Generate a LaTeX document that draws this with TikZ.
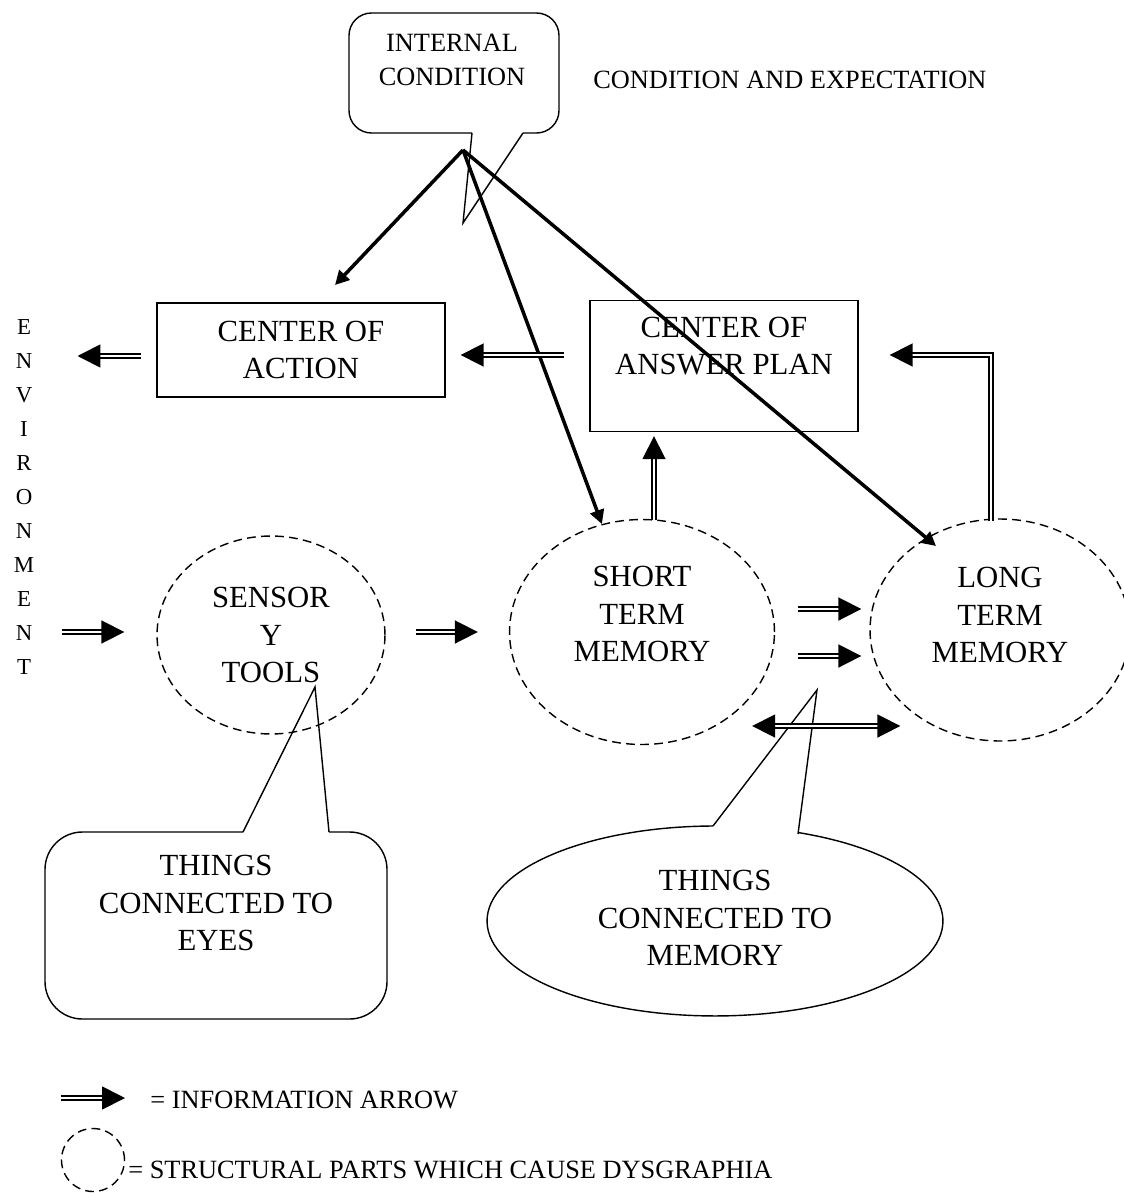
\documentclass[tikz,border=0pt]{standalone}
\usepackage{fontspec}
\setmainfont{Liberation Serif}
\usetikzlibrary{arrows.meta,shapes.geometric,calc}

\newcommand{\bigfont}{\fontsize{17.5}{21.5}\selectfont}
\newcommand{\smallfont}{\fontsize{15}{19}\selectfont}

\tikzset{
  block/.style={draw, line width=0.8pt, inner sep=0pt},
  memory/.style={ellipse, draw, line width=0.8pt, dash pattern=on 5pt off 3pt, inner sep=0pt},
  info/.style={double, double distance=1.3pt, line width=1pt, -{Triangle[length=13pt,width=13pt]}},
  infoboth/.style={info, {Triangle[length=13pt,width=13pt]}-{Triangle[length=13pt,width=13pt]}},
  pull/.style={line width=2pt, -{Triangle[length=8pt,width=8pt]}},
  bigtext/.style={font=\bigfont, align=center, inner sep=0pt},
  smalltext/.style={font=\smallfont, align=center, inner sep=0pt},
  bubble/.style={line width=0.8pt}
}

\begin{document}
\begin{tikzpicture}[x=0.02cm, y=-0.02cm]
  \useasboundingbox (0,0) rectangle (1124,1193);

  % top callout
  \draw[bubble, rounded corners=0.45cm] (523,133) -- (559,133) -- (559,13) -- (349,13) -- (349,133) -- (472,133);
  \draw[bubble] (472,133) -- (463,223) -- (523,133);
  \node[smalltext] (internal) at (452,60) {INTERNAL\\CONDITION};
  \node[smalltext, anchor=west] (expect) at (593,80) {CONDITION AND EXPECTATION};

  % centers
  \node[block, bigtext, minimum width=5.76cm, minimum height=1.88cm] (action) at (301,350) {CENTER OF\\ACTION};
  \node[block, minimum width=5.36cm, minimum height=2.62cm] (plan) at (724,366) {};
  \node[bigtext] (plantext) at (724,346) {CENTER OF\\ANSWER PLAN};

  % environment
  \node[font=\fontsize{13}{19.3}\selectfont, align=center, inner sep=0pt] (env) at (24,497) {E\\N\\V\\I\\R\\O\\N\\M\\E\\N\\T};

  % memories
  \node[memory, bigtext, minimum width=4.56cm, minimum height=3.96cm] (sensory) at (271,635) {SENSOR\\Y\\TOOLS};
  \node[memory, minimum width=5.3cm, minimum height=4.5cm] (stm) at (642,632) {};
  \node[bigtext] (stmtext) at (642,614) {SHORT\\TERM\\MEMORY};
  \node[memory, minimum width=5.2cm, minimum height=4.44cm] (ltm) at (1000,630) {};
  \node[bigtext] (ltmtext) at (1000,615) {LONG\\TERM\\MEMORY};

  % callouts below
  \draw[bubble, rounded corners=0.75cm] (329,832) -- (387,832) -- (387,1019) -- (45,1019) -- (45,832) -- (243,832);
  \draw[bubble] (243,832) -- (315,687) -- (329,832);
  \node[bigtext] (eyes) at (216,903) {THINGS\\CONNECTED TO\\EYES};
  \draw[bubble] (713,826) arc[start angle=90.5, end angle=428.6, x radius=4.56cm, y radius=1.9cm];
  \draw[bubble] (713,826) -- (817,690) -- (798,834);
  \node[bigtext] (memtext) at (715,918) {THINGS\\CONNECTED TO\\MEMORY};

  % condition arrows
  \coordinate (icond) at (463,150);
  \coordinate (actiontip) at (335,285);
  \coordinate (ltmtip) at (936,546);
  \draw[pull] (icond) -- (actiontip);
  \draw[pull] (icond) -- (stm);
  \draw[pull] (icond) -- (ltmtip);

  % information arrows
  \draw[info] ($(action.west)+(-15,6)$) -- ($(action.west -| env.east)+(43,6)$);
  \draw[info] ($(plan.west |- action.east)+(-25,5)$) -- ($(action.east)+(15,5)$);
  \draw[info] ($(stm.north)+(12,1)$) -- ($(stm.north |- plan.south)+(12,4)$);
  \draw[info] ($(ltm.north)+(-9,3)$) |- ($(plan.east)+(31,-11)$);
  \draw[info] ($(env.east |- stm.west)+(27,0)$) -- ($(sensory.west |- stm.west)+(-32,0)$);
  \draw[info] ($(sensory.east |- stm.west)+(30,0)$) -- ($(stm.west)+(-31,0)$);
  \draw[info] ($(stm.east)+(23,-23)$) -- ($(ltm.west |- stm.east)+(-8,-23)$);
  \draw[info] ($(stm.east)+(23,24)$) -- ($(ltm.west |- stm.east)+(-8,24)$);
  \draw[infoboth] ($(stm.east)+(-23,94)$) -- ($(ltm.west |- stm.east)+(31,94)$);

  % legend
  \node[smalltext, anchor=west] (leginfo) at (150,1100) {= INFORMATION ARROW};
  \draw[info] ($(leginfo.west)+(-89,-2)$) -- ($(leginfo.west)+(-25,-2)$);
  \node[memory, circle, minimum size=1.26cm] (legpart) at (93,1160) {};
  \node[smalltext, anchor=west] (legtext) at (128,1170) {= STRUCTURAL PARTS WHICH CAUSE DYSGRAPHIA};
\end{tikzpicture}
\end{document}
